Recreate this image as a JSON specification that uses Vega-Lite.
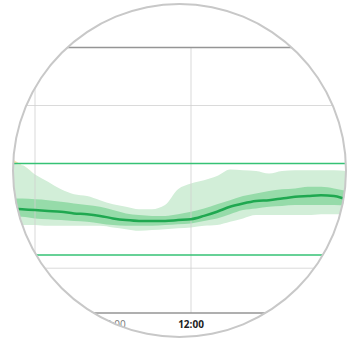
{
  "$schema": "https://vega.github.io/schema/vega-lite/v6.json",
  "width": 341,
  "height": 341,
  "autosize": {"type": "none"},
  "padding": {"left": 9, "right": 0, "top": 0, "bottom": 1},
  "background": "white",
  "config": {"view": {"stroke": null}},
  "datasets": {
    "agp": [
      {"h": 5.0, "p5": 106, "p25": 116, "p50": 126, "p75": 138, "p95": 188, "hi": 180},
      {"h": 5.5, "p5": 106, "p25": 116, "p50": 125, "p75": 138, "p95": 178, "hi": 178},
      {"h": 6.0, "p5": 106, "p25": 114, "p50": 124, "p75": 137, "p95": 167, "hi": 167},
      {"h": 6.5, "p5": 105, "p25": 113, "p50": 123, "p75": 136, "p95": 158, "hi": 158},
      {"h": 7.0, "p5": 105, "p25": 112, "p50": 122, "p75": 134, "p95": 149, "hi": 149},
      {"h": 7.5, "p5": 105, "p25": 111, "p50": 120, "p75": 132, "p95": 143, "hi": 143},
      {"h": 8.0, "p5": 105, "p25": 110, "p50": 119, "p75": 130, "p95": 141, "hi": 141},
      {"h": 8.5, "p5": 105, "p25": 108, "p50": 117, "p75": 128, "p95": 136, "hi": 136},
      {"h": 9.0, "p5": 103, "p25": 106, "p50": 114, "p75": 124, "p95": 131, "hi": 131},
      {"h": 9.5, "p5": 101, "p25": 105, "p50": 112, "p75": 120, "p95": 128, "hi": 128},
      {"h": 10.0, "p5": 99, "p25": 105, "p50": 111, "p75": 118, "p95": 125, "hi": 125},
      {"h": 10.5, "p5": 100, "p25": 105, "p50": 111, "p75": 117, "p95": 125, "hi": 125},
      {"h": 11.0, "p5": 101, "p25": 106, "p50": 111, "p75": 117, "p95": 130, "hi": 130},
      {"h": 11.5, "p5": 102, "p25": 107, "p50": 112, "p75": 119, "p95": 149, "hi": 149},
      {"h": 12.0, "p5": 103, "p25": 108, "p50": 113, "p75": 122, "p95": 156, "hi": 156},
      {"h": 12.5, "p5": 105, "p25": 111, "p50": 117, "p75": 126, "p95": 160, "hi": 160},
      {"h": 13.0, "p5": 106, "p25": 114, "p50": 122, "p75": 131, "p95": 165, "hi": 165},
      {"h": 13.5, "p5": 110, "p25": 119, "p50": 128, "p75": 136, "p95": 173, "hi": 173},
      {"h": 14.0, "p5": 114, "p25": 124, "p50": 132, "p75": 141, "p95": 172, "hi": 172},
      {"h": 14.5, "p5": 118, "p25": 126, "p50": 135, "p75": 144, "p95": 171, "hi": 171},
      {"h": 15.0, "p5": 118, "p25": 128, "p50": 136, "p75": 147, "p95": 168, "hi": 168},
      {"h": 15.5, "p5": 118, "p25": 129, "p50": 138, "p75": 149, "p95": 171, "hi": 171},
      {"h": 16.0, "p5": 118, "p25": 130, "p50": 140, "p75": 150, "p95": 172, "hi": 172},
      {"h": 16.5, "p5": 118, "p25": 130, "p50": 141, "p75": 152, "p95": 172, "hi": 172},
      {"h": 17.0, "p5": 119, "p25": 130, "p50": 142, "p75": 152, "p95": 172, "hi": 172},
      {"h": 17.5, "p5": 119, "p25": 130, "p50": 141, "p75": 150, "p95": 172, "hi": 172},
      {"h": 18.0, "p5": 119, "p25": 129, "p50": 137, "p75": 147, "p95": 171, "hi": 171},
      {"h": 18.5, "p5": 119, "p25": 128, "p50": 135, "p75": 145, "p95": 170, "hi": 170}
    ],
    "vgrid": [{"h": 6}, {"h": 12}, {"h": 18}],
    "hgrid": [{"v": 54}, {"v": 250}],
    "border": [{"v": 0}, {"v": 320}],
    "target": [{"v": 70}, {"v": 180}],
    "labels": [{"h": 9, "label": "09:00"}, {"h": 12, "label": "12:00"}, {"h": 15, "label": "15:00"}],
    "one": [{"v": 1}]
  },
  "layer": [
    {
      "data": {"name": "hgrid"},
      "mark": {"type": "rule", "color": "#dadada", "strokeWidth": 1},
      "encoding": {
        "y": {"field": "v", "type": "quantitative", "scale": {"domain": [-33.7, 377.1], "nice": false, "zero": false}, "axis": null}
      }
    },
    {
      "data": {"name": "agp"},
      "mark": {"type": "area", "color": "#fbe3ae", "interpolate": "monotone", "clip": true},
      "encoding": {
        "x": {"field": "h", "type": "quantitative", "scale": {"domain": [5, 18.115], "nice": false, "zero": false}, "axis": null},
        "y": {"field": "p95", "type": "quantitative", "scale": {"domain": [-33.7, 377.1], "nice": false, "zero": false}, "axis": null},
        "y2": {"field": "hi"}
      }
    },
    {
      "data": {"name": "agp"},
      "mark": {"type": "area", "color": "#d2eed8", "interpolate": "monotone", "clip": true},
      "encoding": {
        "x": {"field": "h", "type": "quantitative", "scale": {"domain": [5, 18.115], "nice": false, "zero": false}, "axis": null},
        "y": {"field": "p5", "type": "quantitative", "scale": {"domain": [-33.7, 377.1], "nice": false, "zero": false}, "axis": null},
        "y2": {"field": "hi"}
      }
    },
    {
      "data": {"name": "agp"},
      "mark": {"type": "area", "color": "#96dba9", "interpolate": "monotone", "clip": true},
      "encoding": {
        "x": {"field": "h", "type": "quantitative", "scale": {"domain": [5, 18.115], "nice": false, "zero": false}, "axis": null},
        "y": {"field": "p25", "type": "quantitative", "scale": {"domain": [-33.7, 377.1], "nice": false, "zero": false}, "axis": null},
        "y2": {"field": "p75"}
      }
    },
    {
      "data": {"name": "vgrid"},
      "mark": {"type": "rule", "color": "#cfcfcf", "strokeWidth": 1, "opacity": 0.8, "clip": true},
      "encoding": {
        "x": {"field": "h", "type": "quantitative", "scale": {"domain": [5, 18.115], "nice": false, "zero": false}, "axis": null},
        "y": {"datum": 0, "type": "quantitative", "scale": {"domain": [-33.7, 377.1], "nice": false, "zero": false}, "axis": null},
        "y2": {"datum": 320}
      }
    },
    {
      "data": {"name": "border"},
      "mark": {"type": "rule", "color": "#959595", "strokeWidth": 1.5},
      "encoding": {
        "y": {"field": "v", "type": "quantitative", "scale": {"domain": [-33.7, 377.1], "nice": false, "zero": false}, "axis": null}
      }
    },
    {
      "data": {"name": "agp"},
      "mark": {"type": "line", "color": "#1fa850", "strokeWidth": 2.5, "interpolate": "monotone", "clip": true},
      "encoding": {
        "x": {"field": "h", "type": "quantitative", "scale": {"domain": [5, 18.115], "nice": false, "zero": false}, "axis": null},
        "y": {"field": "p50", "type": "quantitative", "scale": {"domain": [-33.7, 377.1], "nice": false, "zero": false}, "axis": null}
      }
    },
    {
      "data": {"name": "target"},
      "mark": {"type": "rule", "color": "#35c275", "strokeWidth": 1.5},
      "encoding": {
        "y": {"field": "v", "type": "quantitative", "scale": {"domain": [-33.7, 377.1], "nice": false, "zero": false}, "axis": null}
      }
    },
    {
      "data": {"name": "labels"},
      "transform": [{"filter": "datum.label != '12:00'"}],
      "mark": {"type": "text", "font": "Open Sans", "fontSize": 10, "color": "#777777", "baseline": "middle", "align": "center"},
      "encoding": {
        "x": {"field": "h", "type": "quantitative", "scale": {"domain": [5, 18.115], "nice": false, "zero": false}, "axis": null},
        "y": {"datum": -15, "type": "quantitative", "scale": {"domain": [-33.7, 377.1], "nice": false, "zero": false}, "axis": null},
        "text": {"field": "label"}
      }
    },
    {
      "data": {"name": "labels"},
      "transform": [{"filter": "datum.label == '12:00'"}],
      "mark": {"type": "text", "font": "Open Sans", "fontSize": 10, "fontWeight": "bold", "color": "#222222", "baseline": "middle", "align": "center"},
      "encoding": {
        "x": {"field": "h", "type": "quantitative", "scale": {"domain": [5, 18.115], "nice": false, "zero": false}, "axis": null},
        "y": {"datum": -15, "type": "quantitative", "scale": {"domain": [-33.7, 377.1], "nice": false, "zero": false}, "axis": null},
        "text": {"field": "label"}
      }
    },
    {
      "data": {"name": "one"},
      "mark": {"type": "arc", "innerRadius": 167, "radius": 420, "color": "white"},
      "encoding": {"theta": {"field": "v", "type": "quantitative"}}
    },
    {
      "data": {"name": "one"},
      "mark": {"type": "arc", "innerRadius": 165.5, "radius": 167.5, "color": "#c8c8c8"},
      "encoding": {"theta": {"field": "v", "type": "quantitative"}}
    }
  ]
}
